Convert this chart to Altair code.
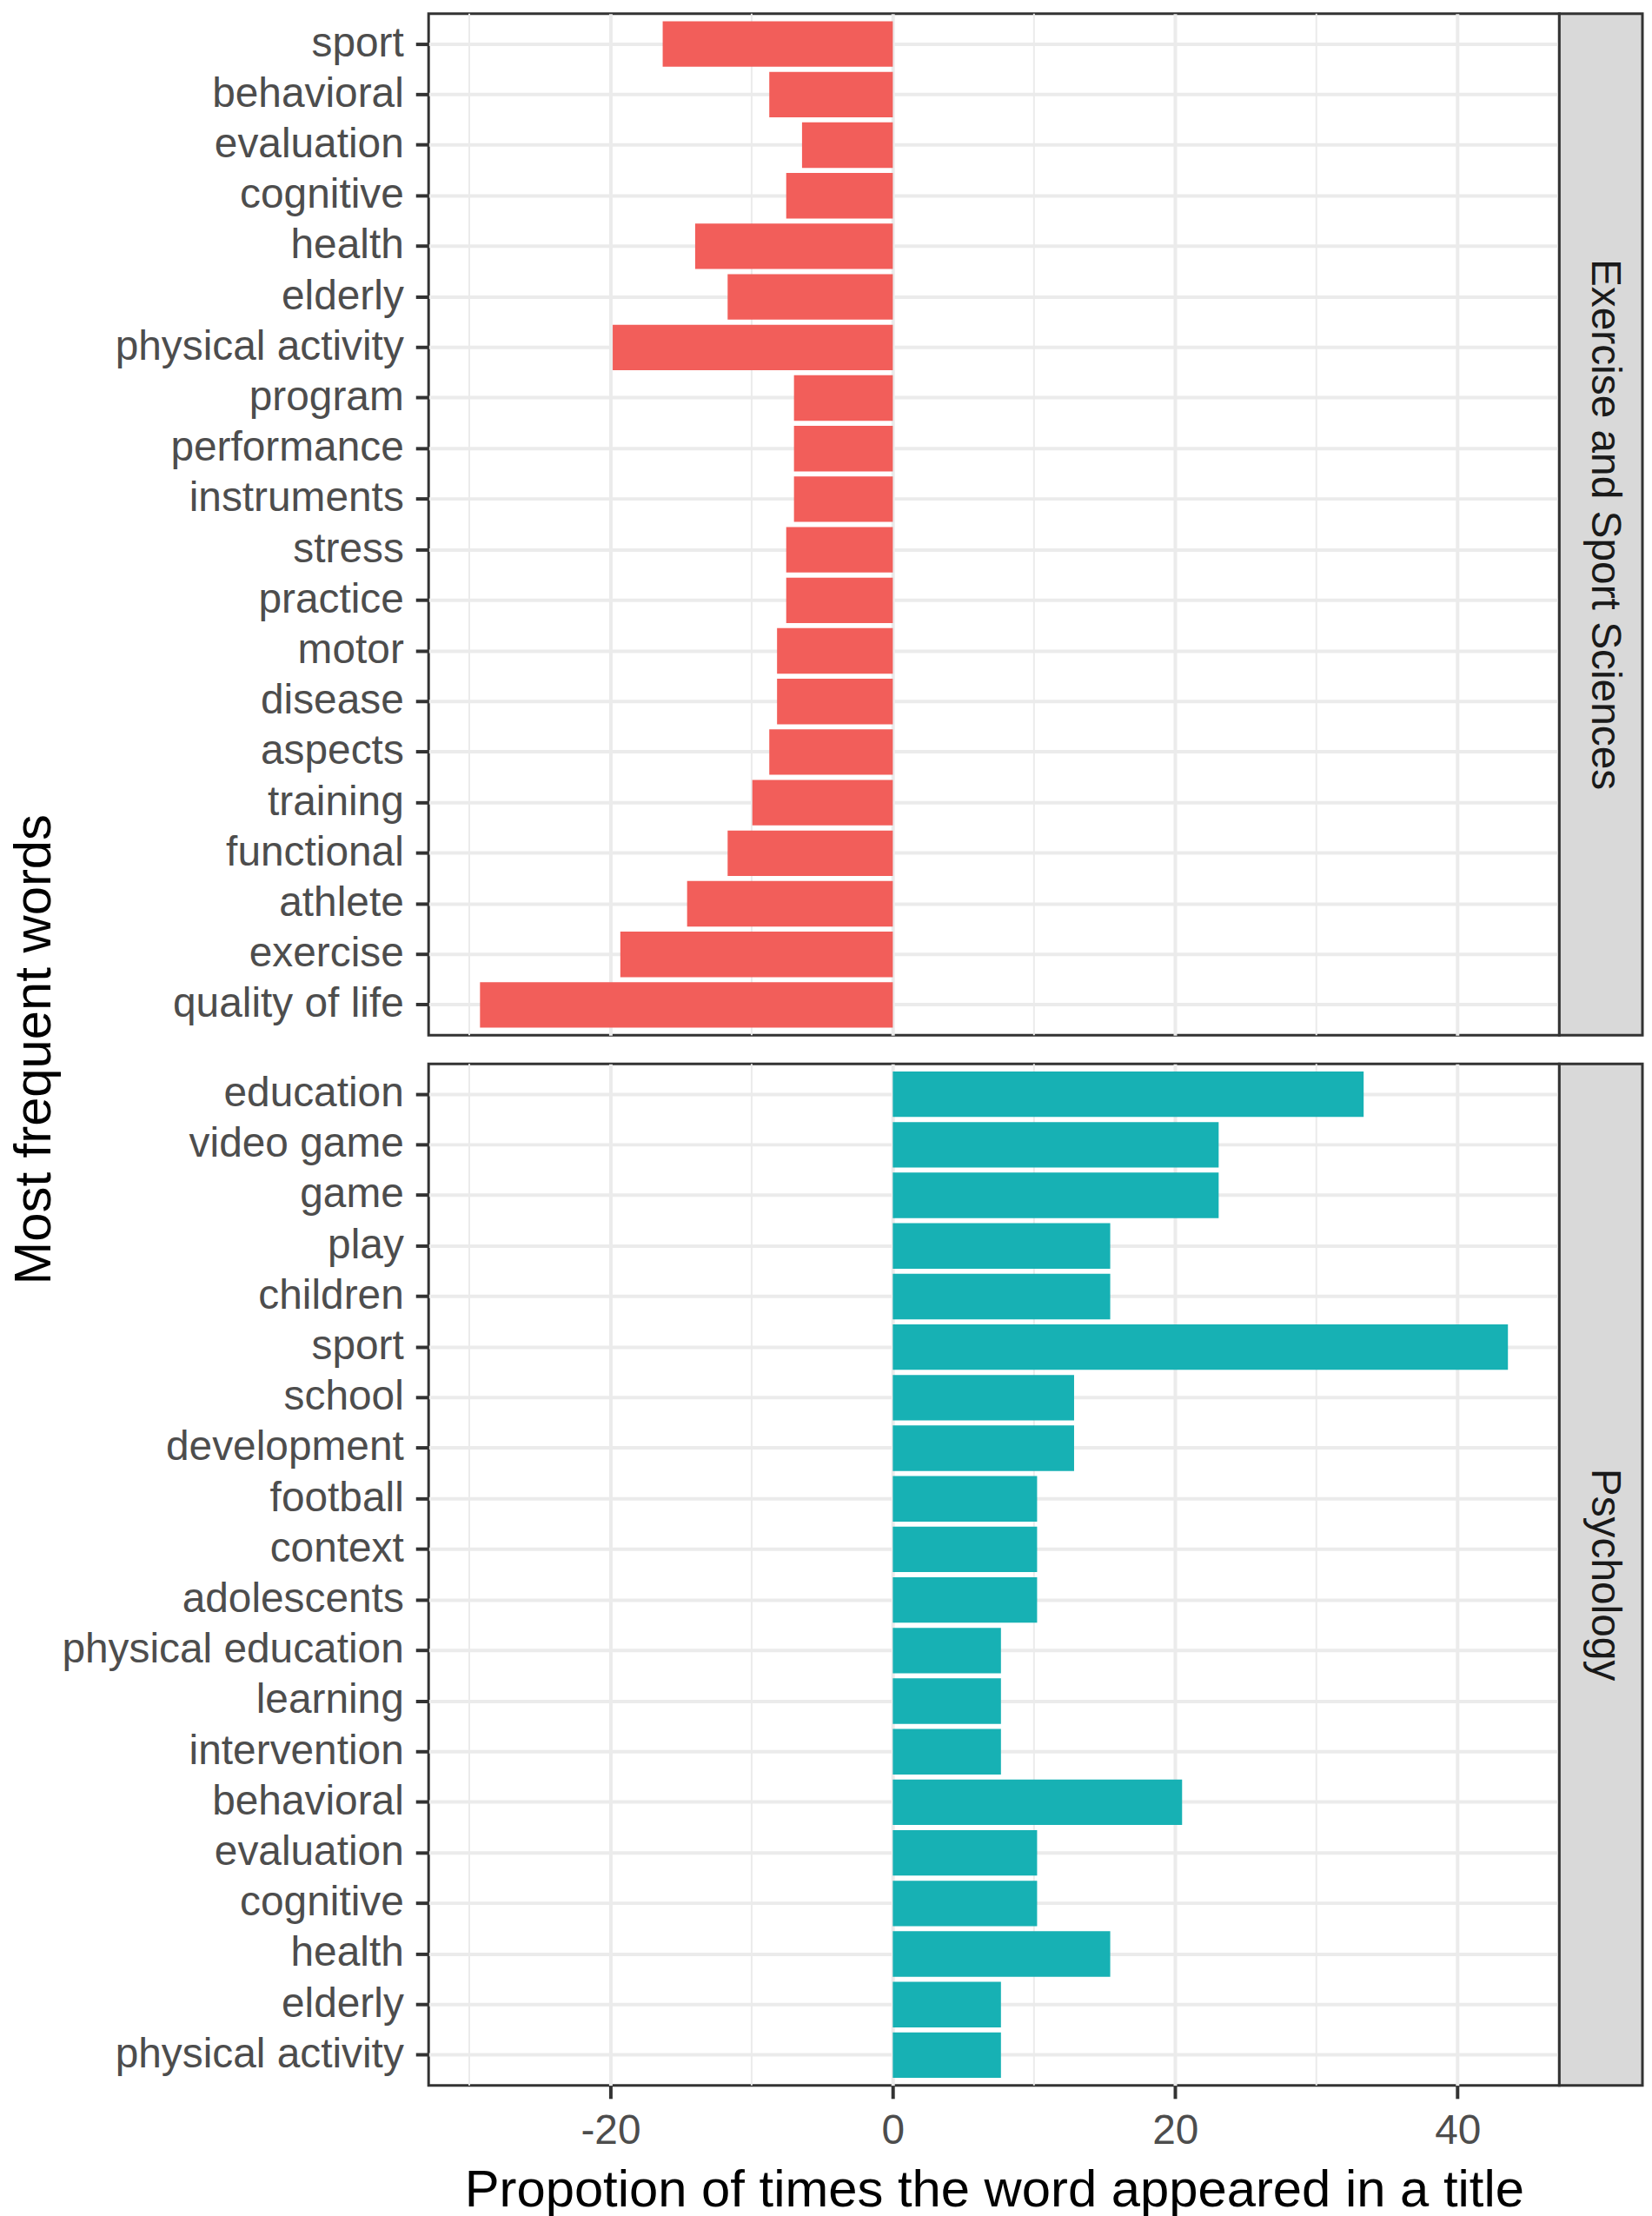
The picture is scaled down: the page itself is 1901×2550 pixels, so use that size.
import altair as alt
import pandas as pd

# ---------------- data ----------------
ex_words = ["sport", "behavioral", "evaluation", "cognitive", "health", "elderly",
            "physical activity", "program", "performance", "instruments", "stress",
            "practice", "motor", "disease", "aspects", "training", "functional",
            "athlete", "exercise", "quality of life"]
ex_values = [-16.3, -8.75, -6.43, -7.55, -14.0, -11.7, -19.84, -7.0, -7.0, -7.0,
             -7.55, -7.55, -8.2, -8.2, -8.75, -9.95, -11.7, -14.57, -19.3, -29.24]

psy_words = ["education", "video game", "game", "play", "children", "sport", "school",
             "development", "football", "context", "adolescents", "physical education",
             "learning", "intervention", "behavioral", "evaluation", "cognitive",
             "health", "elderly", "physical activity"]
psy_values = [33.35, 23.08, 23.08, 15.4, 15.4, 43.57, 12.84, 12.84, 10.22, 10.22,
              10.22, 7.66, 7.66, 7.66, 20.49, 10.22, 10.22, 15.4, 7.66, 7.66]

panels = ["Exercise and Sport Sciences", "Psychology"]
colors = ["#F25E5A", "#17B1B4"]
major_ticks = [-20, 0, 20, 40]
minor_ticks = [-30, -10, 10, 30]
x_title = "Propotion of times the word appeared in a title"
y_title = "Most frequent words"

# ---------------- style ----------------
FONT = "Liberation Sans"
GRID = "#EBEBEB"
W = 1306
H = 1180
GAP = 33
STRIP = 96

all_vals = ex_values + psy_values
lo, hi = min(all_vals), max(all_vals)
pad = 0.05 * (hi - lo)
xscale = alt.Scale(domain=[lo - pad, hi + pad], nice=False, zero=False)
yscale = alt.Scale(paddingInner=0.1, paddingOuter=0.15)


def make_panel(words, values, color, strip_label, bottom, with_ytitle):
    df = pd.DataFrame({"word": words, "value": values})
    if bottom:
        xaxis = alt.Axis(values=major_ticks, grid=True, gridColor=GRID, gridWidth=4,
                         domain=False, ticks=True, tickSize=15, tickWidth=4,
                         tickColor="#333333", labelFontSize=48, labelColor="#4D4D4D",
                         labelFont=FONT, labelPadding=14, labelFlush=False,
                         labelExpr="'' + datum.value",
                         title=x_title, titleFont=FONT, titleFontSize=60,
                         titleColor="#000000", titleFontWeight="normal",
                         titlePadding=15)
    else:
        xaxis = alt.Axis(values=major_ticks, grid=True, gridColor=GRID, gridWidth=4,
                         domain=False, ticks=False, labels=False, title=None)
    yaxis = alt.Axis(bandPosition=0.5, grid=True, gridColor=GRID, gridWidth=4,
                     domain=False, tickSize=15, tickWidth=4, tickColor="#333333",
                     labelFontSize=48, labelColor="#4D4D4D", labelFont=FONT,
                     labelPadding=14, labelLimit=900, title=None)

    minor = alt.Chart(pd.DataFrame({"value": minor_ticks})).mark_rule(
        color=GRID, strokeWidth=2
    ).encode(x=alt.X("value:Q", scale=xscale, axis=xaxis))

    bars = alt.Chart(df).mark_bar(color=color).encode(
        x=alt.X("value:Q", scale=xscale, axis=xaxis),
        x2=alt.datum(0),
        y=alt.Y("word:N", sort=words, scale=yscale, axis=yaxis),
    )

    sdf = pd.DataFrame({"label": [strip_label]})
    strip_rect = alt.Chart(sdf).mark_rect(
        fill="#D9D9D9", stroke="#333333", strokeWidth=3
    ).encode(x=alt.value(W), x2=alt.value(W + STRIP), y=alt.value(0), y2=alt.value(H))
    strip_text = alt.Chart(sdf).mark_text(
        angle=90, fontSize=48, font=FONT, color="#1A1A1A", align="center", baseline="middle"
    ).encode(text="label:N", x=alt.value(W + 52), y=alt.value(H / 2))

    layers = [minor, bars, strip_rect, strip_text]
    if with_ytitle:
        tdf = pd.DataFrame({"t": [y_title]})
        ytxt = alt.Chart(tdf).mark_text(
            angle=270, fontSize=60, font=FONT, color="#000000", align="center", baseline="middle"
        ).encode(text="t:N", x=alt.value(-455), y=alt.value(H + GAP / 2))
        layers.append(ytxt)
    return alt.layer(*layers).properties(width=W, height=H)


top = make_panel(ex_words, ex_values, colors[0], panels[0], False, True)
bottom = make_panel(psy_words, psy_values, colors[1], panels[1], True, False)

chart = alt.vconcat(top, bottom, spacing=GAP, bounds="flush").properties(
    padding=0, background="white"
).configure_view(stroke="#333333", strokeWidth=3)

chart.save("out.html", embed_options={"renderer": "svg", "actions": False})
